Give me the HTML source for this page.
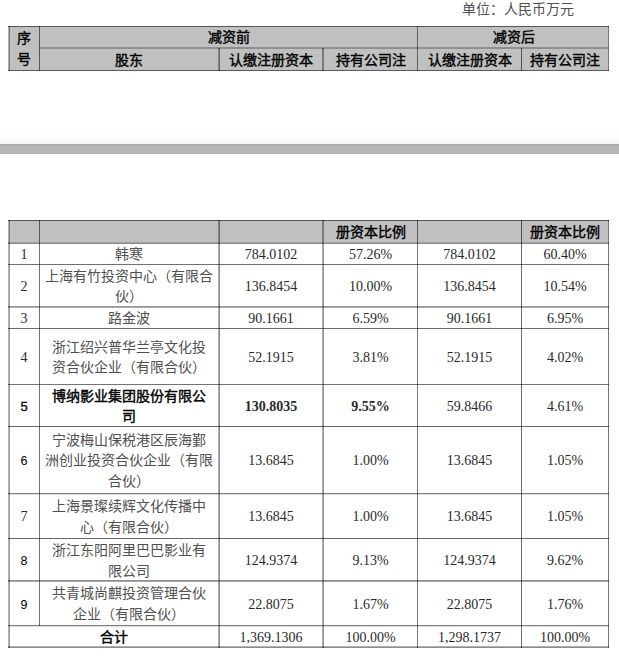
<!DOCTYPE html>
<html lang="zh-CN"><head><meta charset="utf-8"><title>table</title><style>
html,body{margin:0;padding:0;background:#fff}
body{width:619px;height:658px;overflow:hidden;position:relative;font-family:"Liberation Serif",serif;font-size:14px;color:#000}
i{position:absolute;display:block}
.c{position:absolute;display:flex;align-items:center;justify-content:center;text-align:center;line-height:20.6px;box-sizing:border-box;padding-top:4px}
.hd{font-family:"Liberation Sans",sans-serif;font-weight:normal;-webkit-text-stroke:0.4px #000;line-height:21px;padding-top:1px}
.h1{padding-top:2.5px}
.name{font-family:"Liberation Serif",serif;color:#505050}
.name b{color:#000;font-weight:normal;-webkit-text-stroke:0.4px #000}
.nums,.numb,.numa{font-family:"Liberation Serif",serif;}
.nums{color:#2a2a2a}
.numb{font-family:"Liberation Sans",sans-serif;font-weight:normal;font-size:13px;-webkit-text-stroke:0.3px #000}
.numa{font-family:"Liberation Sans",sans-serif;font-size:12.5px}
.n{font-family:"Liberation Serif",serif;color:#2a2a2a}
.unit{position:absolute;left:462px;top:1.5px;line-height:16px;font-family:"Liberation Serif",serif;white-space:nowrap;color:#505050}
</style></head><body>
<div class="unit">单位：人民币万元</div>
<i style="left:9px;top:27px;width:599px;height:43px;background:#c0c0c0"></i>
<i style="left:8px;top:26px;width:601px;height:1px;background:rgba(0,0,0,0.66)"></i>
<i style="left:39px;top:47px;width:570px;height:1px;background:rgba(0,0,0,0.26)"></i>
<i style="left:39px;top:48px;width:570px;height:1px;background:rgba(0,0,0,0.26)"></i>
<i style="left:8px;top:70px;width:601px;height:1px;background:rgba(0,0,0,0.64)"></i>
<i style="left:8px;top:26px;width:1px;height:45px;background:rgba(0,0,0,0.31)"></i>
<i style="left:9px;top:26px;width:1px;height:45px;background:rgba(0,0,0,0.37)"></i>
<i style="left:39px;top:26px;width:1px;height:45px;background:rgba(0,0,0,0.55)"></i>
<i style="left:417px;top:26px;width:1px;height:45px;background:rgba(0,0,0,0.5)"></i>
<i style="left:608px;top:26px;width:1px;height:45px;background:rgba(0,0,0,0.53)"></i>
<i style="left:218px;top:48px;width:1px;height:23px;background:rgba(0,0,0,0.31)"></i>
<i style="left:219px;top:48px;width:1px;height:23px;background:rgba(0,0,0,0.45)"></i>
<i style="left:322px;top:48px;width:1px;height:23px;background:rgba(0,0,0,0.34)"></i>
<i style="left:323px;top:48px;width:1px;height:23px;background:rgba(0,0,0,0.4)"></i>
<i style="left:521px;top:48px;width:1px;height:23px;background:rgba(0,0,0,0.58)"></i>
<div class="c hd h1" style="left:9px;top:26px;width:30px;height:44px">序<br>号</div>
<div class="c hd h1" style="left:39px;top:26px;width:379px;height:21px">减资前</div>
<div class="c hd h1" style="left:418px;top:26px;width:191px;height:21px">减资后</div>
<div class="c hd h1" style="left:39px;top:48px;width:180px;height:22px">股东</div>
<div class="c hd h1" style="left:219px;top:48px;width:104px;height:22px">认缴注册资本</div>
<div class="c hd h1" style="left:323px;top:48px;width:95px;height:22px">持有公司注</div>
<div class="c hd h1" style="left:418px;top:48px;width:103px;height:22px">认缴注册资本</div>
<div class="c hd h1" style="left:521px;top:48px;width:88px;height:22px">持有公司注</div>
<i style="left:0px;top:134px;width:619px;height:1px;background:#fefefe"></i>
<i style="left:0px;top:135px;width:619px;height:1px;background:#fdfdfd"></i>
<i style="left:0px;top:136px;width:619px;height:1px;background:#fcfcfc"></i>
<i style="left:0px;top:137px;width:619px;height:1px;background:#fbfbfb"></i>
<i style="left:0px;top:138px;width:619px;height:1px;background:#fafafa"></i>
<i style="left:0px;top:139px;width:619px;height:1px;background:#f9f9f9"></i>
<i style="left:0px;top:140px;width:619px;height:1px;background:#f8f8f8"></i>
<i style="left:0px;top:141px;width:619px;height:1px;background:#f7f7f7"></i>
<i style="left:0px;top:142px;width:619px;height:1px;background:#f6f6f6"></i>
<i style="left:0px;top:143px;width:619px;height:1px;background:#f5f5f5"></i>
<i style="left:0px;top:144px;width:619px;height:1px;background:#a8a8a8"></i>
<i style="left:0px;top:145px;width:619px;height:1px;background:#b2b2b2"></i>
<i style="left:0px;top:146px;width:619px;height:1px;background:#b5b5b5"></i>
<i style="left:0px;top:147px;width:619px;height:1px;background:#b6b6b6"></i>
<i style="left:0px;top:148px;width:619px;height:1px;background:#b6b6b6"></i>
<i style="left:0px;top:149px;width:619px;height:1px;background:#b7b7b7"></i>
<i style="left:0px;top:150px;width:619px;height:1px;background:#b7b7b7"></i>
<i style="left:0px;top:151px;width:619px;height:1px;background:#b7b7b7"></i>
<i style="left:0px;top:152px;width:619px;height:1px;background:#b6b6b6"></i>
<i style="left:0px;top:153px;width:619px;height:1px;background:#b0b0b0"></i>
<i style="left:9px;top:221px;width:599px;height:21px;background:#c0c0c0"></i>
<i style="left:8px;top:220px;width:601px;height:1px;background:rgba(0,0,0,0.66)"></i>
<i style="left:8px;top:242px;width:601px;height:1px;background:rgba(0,0,0,0.36)"></i>
<i style="left:8px;top:243px;width:601px;height:1px;background:rgba(0,0,0,0.46)"></i>
<i style="left:8px;top:264px;width:601px;height:1px;background:rgba(0,0,0,0.56)"></i>
<i style="left:8px;top:306px;width:601px;height:1px;background:rgba(0,0,0,0.4)"></i>
<i style="left:8px;top:307px;width:601px;height:1px;background:rgba(0,0,0,0.34)"></i>
<i style="left:8px;top:328px;width:601px;height:1px;background:rgba(0,0,0,0.58)"></i>
<i style="left:8px;top:384px;width:601px;height:1px;background:rgba(0,0,0,0.55)"></i>
<i style="left:8px;top:426px;width:601px;height:1px;background:rgba(0,0,0,0.6)"></i>
<i style="left:8px;top:493px;width:601px;height:1px;background:rgba(0,0,0,0.51)"></i>
<i style="left:8px;top:494px;width:601px;height:1px;background:rgba(0,0,0,0.12)"></i>
<i style="left:8px;top:538px;width:601px;height:1px;background:rgba(0,0,0,0.6)"></i>
<i style="left:8px;top:580px;width:601px;height:1px;background:rgba(0,0,0,0.44)"></i>
<i style="left:8px;top:581px;width:601px;height:1px;background:rgba(0,0,0,0.34)"></i>
<i style="left:8px;top:625px;width:601px;height:1px;background:rgba(0,0,0,0.51)"></i>
<i style="left:8px;top:626px;width:601px;height:1px;background:rgba(0,0,0,0.12)"></i>
<i style="left:8px;top:646px;width:601px;height:1px;background:rgba(0,0,0,0.31)"></i>
<i style="left:8px;top:647px;width:601px;height:1px;background:rgba(0,0,0,0.45)"></i>
<i style="left:8px;top:220px;width:1px;height:428px;background:rgba(0,0,0,0.31)"></i>
<i style="left:9px;top:220px;width:1px;height:428px;background:rgba(0,0,0,0.37)"></i>
<i style="left:218px;top:220px;width:1px;height:428px;background:rgba(0,0,0,0.31)"></i>
<i style="left:219px;top:220px;width:1px;height:428px;background:rgba(0,0,0,0.45)"></i>
<i style="left:322px;top:220px;width:1px;height:428px;background:rgba(0,0,0,0.34)"></i>
<i style="left:323px;top:220px;width:1px;height:428px;background:rgba(0,0,0,0.4)"></i>
<i style="left:417px;top:220px;width:1px;height:428px;background:rgba(0,0,0,0.53)"></i>
<i style="left:521px;top:220px;width:1px;height:428px;background:rgba(0,0,0,0.58)"></i>
<i style="left:608px;top:220px;width:1px;height:428px;background:rgba(0,0,0,0.53)"></i>
<i style="left:39px;top:220px;width:1px;height:406px;background:rgba(0,0,0,0.55)"></i>
<div class="c hd" style="left:323px;top:220px;width:95px;height:23px">册资本比例</div>
<div class="c hd" style="left:521px;top:220px;width:88px;height:23px">册资本比例</div>
<div class="c nums" style="left:9px;top:243px;width:30px;height:21px">1</div>
<div class="c name" style="left:39px;top:243px;width:180px;height:21px">韩寒</div>
<div class="c n" style="left:219px;top:243px;width:104px;height:21px">784.0102</div>
<div class="c n" style="left:323px;top:243px;width:95px;height:21px">57.26%</div>
<div class="c n" style="left:418px;top:243px;width:103px;height:21px">784.0102</div>
<div class="c n" style="left:521px;top:243px;width:88px;height:21px">60.40%</div>
<div class="c nums" style="left:9px;top:264px;width:30px;height:42.60000000000002px">2</div>
<div class="c name" style="left:39px;top:264px;width:180px;height:42.60000000000002px">上海有竹投资中心（有限合<br>伙）</div>
<div class="c n" style="left:219px;top:264px;width:104px;height:42.60000000000002px">136.8454</div>
<div class="c n" style="left:323px;top:264px;width:95px;height:42.60000000000002px">10.00%</div>
<div class="c n" style="left:418px;top:264px;width:103px;height:42.60000000000002px">136.8454</div>
<div class="c n" style="left:521px;top:264px;width:88px;height:42.60000000000002px">10.54%</div>
<div class="c nums" style="left:9px;top:306.6px;width:30px;height:21.399999999999977px">3</div>
<div class="c name" style="left:39px;top:306.6px;width:180px;height:21.399999999999977px">路金波</div>
<div class="c n" style="left:219px;top:306.6px;width:104px;height:21.399999999999977px">90.1661</div>
<div class="c n" style="left:323px;top:306.6px;width:95px;height:21.399999999999977px">6.59%</div>
<div class="c n" style="left:418px;top:306.6px;width:103px;height:21.399999999999977px">90.1661</div>
<div class="c n" style="left:521px;top:306.6px;width:88px;height:21.399999999999977px">6.95%</div>
<div class="c nums" style="left:9px;top:328px;width:30px;height:56.5px">4</div>
<div class="c name" style="left:39px;top:328px;width:180px;height:56.5px">浙江绍兴普华兰亭文化投<br>资合伙企业（有限合伙）</div>
<div class="c n" style="left:219px;top:328px;width:104px;height:56.5px">52.1915</div>
<div class="c n" style="left:323px;top:328px;width:95px;height:56.5px">3.81%</div>
<div class="c n" style="left:418px;top:328px;width:103px;height:56.5px">52.1915</div>
<div class="c n" style="left:521px;top:328px;width:88px;height:56.5px">4.02%</div>
<div class="c numb" style="left:9px;top:384.5px;width:30px;height:41.5px">5</div>
<div class="c name" style="left:39px;top:384.5px;width:180px;height:41.5px"><b>博纳影业集团股份有限公<br>司</b></div>
<div class="c n" style="left:219px;top:384.5px;width:104px;height:41.5px"><b>130.8035</b></div>
<div class="c n" style="left:323px;top:384.5px;width:95px;height:41.5px"><b>9.55%</b></div>
<div class="c n" style="left:418px;top:384.5px;width:103px;height:41.5px">59.8466</div>
<div class="c n" style="left:521px;top:384.5px;width:88px;height:41.5px">4.61%</div>
<div class="c numa" style="left:9px;top:426px;width:30px;height:67px">6</div>
<div class="c name" style="left:39px;top:426px;width:180px;height:67px">宁波梅山保税港区辰海鄞<br>洲创业投资合伙企业（有限<br>合伙）</div>
<div class="c n" style="left:219px;top:426px;width:104px;height:67px">13.6845</div>
<div class="c n" style="left:323px;top:426px;width:95px;height:67px">1.00%</div>
<div class="c n" style="left:418px;top:426px;width:103px;height:67px">13.6845</div>
<div class="c n" style="left:521px;top:426px;width:88px;height:67px">1.05%</div>
<div class="c nums" style="left:9px;top:493px;width:30px;height:45px">7</div>
<div class="c name" style="left:39px;top:493px;width:180px;height:45px">上海景璨续辉文化传播中<br>心（有限合伙）</div>
<div class="c n" style="left:219px;top:493px;width:104px;height:45px">13.6845</div>
<div class="c n" style="left:323px;top:493px;width:95px;height:45px">1.00%</div>
<div class="c n" style="left:418px;top:493px;width:103px;height:45px">13.6845</div>
<div class="c n" style="left:521px;top:493px;width:88px;height:45px">1.05%</div>
<div class="c numa" style="left:9px;top:538px;width:30px;height:43px">8</div>
<div class="c name" style="left:39px;top:538px;width:180px;height:43px">浙江东阳阿里巴巴影业有<br>限公司</div>
<div class="c n" style="left:219px;top:538px;width:104px;height:43px">124.9374</div>
<div class="c n" style="left:323px;top:538px;width:95px;height:43px">9.13%</div>
<div class="c n" style="left:418px;top:538px;width:103px;height:43px">124.9374</div>
<div class="c n" style="left:521px;top:538px;width:88px;height:43px">9.62%</div>
<div class="c numa" style="left:9px;top:581px;width:30px;height:44px">9</div>
<div class="c name" style="left:39px;top:581px;width:180px;height:44px">共青城尚麒投资管理合伙<br>企业（有限合伙）</div>
<div class="c n" style="left:219px;top:581px;width:104px;height:44px">22.8075</div>
<div class="c n" style="left:323px;top:581px;width:95px;height:44px">1.67%</div>
<div class="c n" style="left:418px;top:581px;width:103px;height:44px">22.8075</div>
<div class="c n" style="left:521px;top:581px;width:88px;height:44px">1.76%</div>
<div class="c name" style="left:9px;top:625px;width:210px;height:22px"><b>合计</b></div>
<div class="c n" style="left:219px;top:625px;width:104px;height:22px">1,369.1306</div>
<div class="c n" style="left:323px;top:625px;width:95px;height:22px">100.00%</div>
<div class="c n" style="left:418px;top:625px;width:103px;height:22px">1,298.1737</div>
<div class="c n" style="left:521px;top:625px;width:88px;height:22px">100.00%</div>
</body></html>
